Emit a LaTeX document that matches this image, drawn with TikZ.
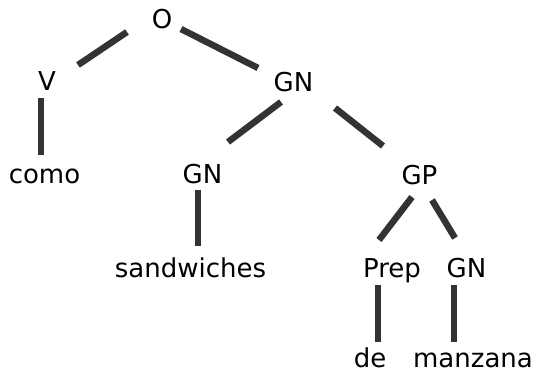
\documentclass[tikz,border=0pt]{standalone}
\usepackage{fontspec}
\setmainfont{DejaVu Sans}
\usetikzlibrary{calc}
\definecolor{edgecol}{HTML}{333333}
\begin{document}
\begin{tikzpicture}[x=1pt,y=-1pt,
  lbl/.style={anchor=base,inner sep=0pt,font=\fontsize{26}{30}\selectfont},
  edge/.style={draw=edgecol,line width=6.5pt}]
\useasboundingbox (0,0) rectangle (535,375);
\node[lbl] (O) at (162,28) {O};
\node[lbl] (V) at (47,90) {V};
\node[lbl] (GN1) at (293.5,91) {GN};
\node[lbl] (como) at (44.5,183) {como};
\node[lbl] (GN2) at (202.5,183) {GN};
\node[lbl] (GP) at (419.5,184) {GP};
\node[lbl] (sandw) at (190.5,277) {sandwiches};
\node[lbl] (Prep) at (392,277) {Prep};
\node[lbl] (GN3) at (466.5,277) {GN};
\node[lbl] (de) at (370,367) {de};
\node[lbl] (manz) at (473,367) {manzana};
% connectors
\draw[edge] ($(O.base)+(-35,4)$) -- ($(V.base)+(31,-25)$);
\draw[edge] ($(O.base)+(19,1)$) -- ($(GN1.base)+(-35.5,-23)$);
\draw[edge] ($(V.base)+(-6,8)$) -- ($(como.base)+(-3.5,-28)$);
\draw[edge] ($(GN1.base)+(-12.5,11)$) -- ($(GN2.base)+(25.5,-41)$);
\draw[edge] ($(GN1.base)+(41.5,17)$) -- ($(GP.base)+(-36.5,-38)$);
\draw[edge] ($(GN2.base)+(-4.5,7)$) -- ($(sandw.base)+(7.5,-31)$);
\draw[edge] ($(GP.base)+(-7.5,13)$) -- ($(Prep.base)+(-13,-37)$);
\draw[edge] ($(GP.base)+(12.5,16)$) -- ($(GN3.base)+(-11.5,-39)$);
\draw[edge] ($(Prep.base)+(-14,8)$) -- ($(de.base)+(8,-25)$);
\draw[edge] ($(GN3.base)+(-12.5,8)$) -- ($(manz.base)+(-19,-25)$);
\end{tikzpicture}
\end{document}
